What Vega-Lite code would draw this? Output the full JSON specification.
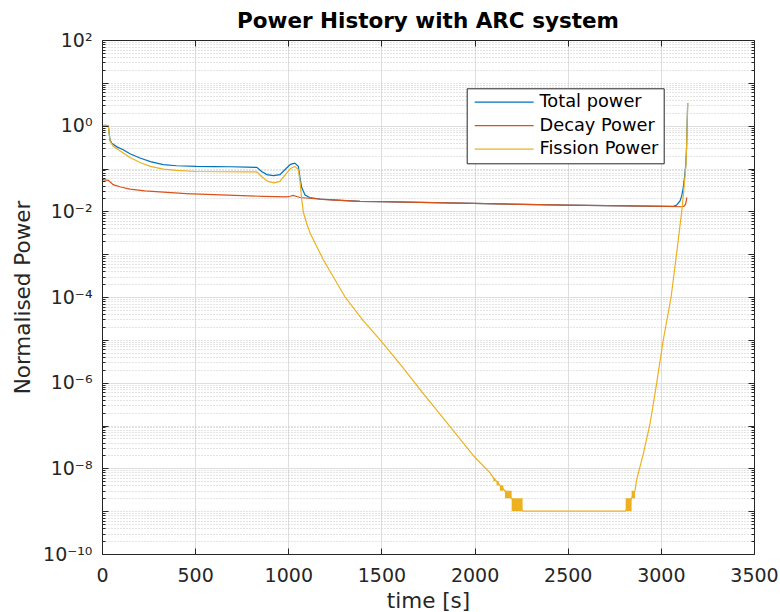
{
  "$schema": "https://vega.github.io/schema/vega-lite/v6.json",
  "width": 652,
  "height": 514,
  "autosize": {"type": "none"},
  "padding": {"left": 102, "top": 40, "right": 26, "bottom": 58},
  "background": "white",
  "title": {"text": "Power History with ARC system", "font": "DejaVu Sans", "fontSize": 21.5, "fontWeight": "bold", "color": "#000000", "anchor": "middle", "baseline": "alphabetic", "offset": 10, "dy": 28},
  "config": {
    "view": {"stroke": null},
    "axis": {"labelFont": "DejaVu Sans", "titleFont": "DejaVu Sans", "labelColor": "#262626", "titleColor": "#262626", "domainColor": "#262626", "tickColor": "#262626", "titleFontWeight": "normal", "domainWidth": 1, "tickWidth": 1}
  },
  "datasets": {
    "total": [
      {"t": 5, "p": 1.0}, {"t": 20, "p": 1.02}, {"t": 34, "p": 0.98}, {"t": 43, "p": 0.47}, {"t": 52, "p": 0.39}, {"t": 80, "p": 0.32}, {"t": 114, "p": 0.275}, {"t": 150, "p": 0.22}, {"t": 204, "p": 0.176}, {"t": 260, "p": 0.145}, {"t": 329, "p": 0.123}, {"t": 400, "p": 0.116}, {"t": 508, "p": 0.112}, {"t": 600, "p": 0.111}, {"t": 687, "p": 0.11}, {"t": 780, "p": 0.108}, {"t": 831, "p": 0.106}, {"t": 857, "p": 0.085}, {"t": 885, "p": 0.072}, {"t": 920, "p": 0.068}, {"t": 955, "p": 0.072}, {"t": 991, "p": 0.103}, {"t": 1012, "p": 0.125}, {"t": 1035, "p": 0.134}, {"t": 1054, "p": 0.112}, {"t": 1063, "p": 0.06}, {"t": 1072, "p": 0.036}, {"t": 1090, "p": 0.024}, {"t": 1115, "p": 0.021}, {"t": 1170, "p": 0.0194}, {"t": 1240, "p": 0.0186}, {"t": 1310, "p": 0.0178}, {"t": 1385, "p": 0.0171}, {"t": 1492, "p": 0.0168}, {"t": 1994, "p": 0.0153}, {"t": 2495, "p": 0.014}, {"t": 3031, "p": 0.013}, {"t": 3067, "p": 0.0131}, {"t": 3085, "p": 0.0141}, {"t": 3103, "p": 0.0175}, {"t": 3112, "p": 0.023}, {"t": 3120, "p": 0.035}, {"t": 3128, "p": 0.068}, {"t": 3134, "p": 0.125}, {"t": 3138, "p": 0.315}, {"t": 3141, "p": 1.015}, {"t": 3144, "p": 3.4}
    ],
    "decay": [
      {"t": 5, "p": 0.055}, {"t": 34, "p": 0.053}, {"t": 60, "p": 0.042}, {"t": 100, "p": 0.037}, {"t": 150, "p": 0.033}, {"t": 230, "p": 0.03}, {"t": 330, "p": 0.028}, {"t": 450, "p": 0.026}, {"t": 598, "p": 0.0245}, {"t": 750, "p": 0.0233}, {"t": 866, "p": 0.0224}, {"t": 991, "p": 0.0217}, {"t": 1010, "p": 0.0225}, {"t": 1026, "p": 0.0236}, {"t": 1045, "p": 0.0222}, {"t": 1063, "p": 0.021}, {"t": 1200, "p": 0.0188}, {"t": 1385, "p": 0.0171}, {"t": 1492, "p": 0.0168}, {"t": 1994, "p": 0.0153}, {"t": 2495, "p": 0.014}, {"t": 3031, "p": 0.013}, {"t": 3112, "p": 0.0128}, {"t": 3125, "p": 0.0132}, {"t": 3132, "p": 0.0145}, {"t": 3136, "p": 0.017}, {"t": 3139, "p": 0.021}
    ],
    "fission": [
      {"t": 5, "p": 1.0}, {"t": 20, "p": 1.02}, {"t": 34, "p": 0.98}, {"t": 43, "p": 0.43}, {"t": 60, "p": 0.33}, {"t": 114, "p": 0.23}, {"t": 150, "p": 0.18}, {"t": 204, "p": 0.138}, {"t": 260, "p": 0.112}, {"t": 329, "p": 0.097}, {"t": 400, "p": 0.09}, {"t": 508, "p": 0.085}, {"t": 650, "p": 0.084}, {"t": 780, "p": 0.083}, {"t": 831, "p": 0.083}, {"t": 857, "p": 0.065}, {"t": 890, "p": 0.05}, {"t": 925, "p": 0.046}, {"t": 955, "p": 0.05}, {"t": 991, "p": 0.078}, {"t": 1012, "p": 0.1}, {"t": 1035, "p": 0.112}, {"t": 1054, "p": 0.094}, {"t": 1063, "p": 0.05}, {"t": 1072, "p": 0.019}, {"t": 1081, "p": 0.0095}, {"t": 1099, "p": 0.0052}, {"t": 1117, "p": 0.0031}, {"t": 1150, "p": 0.0016}, {"t": 1188, "p": 0.00074}, {"t": 1235, "p": 0.00033}, {"t": 1305, "p": 0.0001}, {"t": 1400, "p": 2.9e-5}, {"t": 1501, "p": 9.1e-6}, {"t": 1610, "p": 2.4e-6}, {"t": 1724, "p": 5.6e-7}, {"t": 1860, "p": 1.05e-7}, {"t": 1999, "p": 1.86e-8}, {"t": 2083, "p": 7.8e-9}, {"t": 2101, "p": 6e-9}, {"t": 2118, "p": 5e-9}, {"t": 2136, "p": 4e-9}, {"t": 2163, "p": 3e-9}, {"t": 2199, "p": 2e-9}, {"t": 2258, "p": 1e-9}, {"t": 2811, "p": 1e-9}, {"t": 2843, "p": 2e-9}, {"t": 2861, "p": 3e-9}, {"t": 2870, "p": 5.4e-9}, {"t": 2906, "p": 2.2e-8}, {"t": 2942, "p": 1.1e-7}, {"t": 2978, "p": 1e-6}, {"t": 3013, "p": 1e-5}, {"t": 3055, "p": 0.0001}, {"t": 3085, "p": 0.00107}, {"t": 3112, "p": 0.01}, {"t": 3120, "p": 0.022}, {"t": 3128, "p": 0.055}, {"t": 3134, "p": 0.11}, {"t": 3138, "p": 0.3}, {"t": 3141, "p": 1.0}, {"t": 3144, "p": 3.4}
    ],
    "blocks": [
      {"t1": 2101, "t2": 2110, "lo": 5e-9, "hi": 6e-9},
      {"t1": 2118, "t2": 2130, "lo": 4e-9, "hi": 5e-9},
      {"t1": 2136, "t2": 2155, "lo": 3e-9, "hi": 4e-9},
      {"t1": 2163, "t2": 2199, "lo": 2e-9, "hi": 3e-9},
      {"t1": 2199, "t2": 2258, "lo": 1e-9, "hi": 2e-9},
      {"t1": 2811, "t2": 2843, "lo": 1e-9, "hi": 2e-9},
      {"t1": 2843, "t2": 2861, "lo": 2e-9, "hi": 3e-9}
    ]
  },
  "resolve": {"axis": {"x": "independent", "y": "independent"}},
  "layer": [
    {
      "data": {"name": "total"},
      "mark": {"type": "line", "strokeWidth": 1.2, "clip": true},
      "encoding": {
        "x": {"field": "t", "type": "quantitative", "scale": {"domain": [0, 3500], "nice": false, "zero": false},
          "axis": {"orient": "bottom", "values": [0, 500, 1000, 1500, 2000, 2500, 3000, 3500], "format": "d", "labelFontSize": 19, "labelPadding": 12, "ticks": false, "domain": false, "grid": true, "gridColor": "#dedede", "gridWidth": 1, "title": "time [s]", "titleFontSize": 21.5, "titleX": 326, "titleY": 53, "titleBaseline": "alphabetic", "titleAlign": "center", "labelFlush": false, "labelOverlap": false, "zindex": 0}},
        "y": {"field": "p", "type": "quantitative", "scale": {"type": "log", "domain": [1e-10, 100], "nice": false},
          "axis": {"orient": "left", "values": [1e-10, 1e-8, 1e-6, 0.0001, 0.01, 1, 100], "labelExpr": "datum.value > 10 ? '10²' : datum.value > 0.1 ? '10⁰' : datum.value > 0.001 ? '10⁻²' : datum.value > 0.00001 ? '10⁻⁴' : datum.value > 0.0000001 ? '10⁻⁶' : datum.value > 0.000000001 ? '10⁻⁸' : '10⁻¹⁰'", "labelFontSize": 19, "labelPadding": 10, "ticks": false, "domain": false, "grid": true, "gridColor": "#dedede", "gridWidth": 1, "title": "Normalised Power", "titleFontSize": 21.5, "titleX": -73, "titleY": 257, "titleAngle": -90, "titleAlign": "center", "titleBaseline": "alphabetic", "labelFlush": false, "labelOverlap": false, "zindex": 0}},
        "color": {"datum": "Total power", "type": "nominal",
          "scale": {"domain": ["Total power", "Decay Power", "Fission Power"], "range": ["#0072BD", "#D95319", "#EDB120"]},
          "legend": {"orient": "none", "legendX": 364.7, "legendY": 48.3, "title": null, "symbolType": "M-1,0H9", "symbolSize": 139, "symbolStrokeWidth": 1.2, "symbolFillColor": "transparent", "labelFont": "DejaVu Sans", "labelFontSize": 17.8, "labelColor": "#000000", "labelOffset": 50, "padding": 5, "rowPadding": 4.5, "strokeColor": "#262626", "fillColor": "white", "labelLimit": 300}}
      }
    },
    {
      "data": {"name": "decay"},
      "mark": {"type": "line", "strokeWidth": 1.2, "clip": true},
      "encoding": {
        "x": {"field": "t", "type": "quantitative", "scale": {"domain": [0, 3500], "nice": false, "zero": false},
          "axis": {"orient": "top", "values": [0, 500, 1000, 1500, 2000, 2500, 3000, 3500], "labels": false, "ticks": true, "tickSize": -6, "domain": true, "grid": false, "title": null, "zindex": 1}},
        "y": {"field": "p", "type": "quantitative", "scale": {"type": "log", "domain": [1e-10, 100], "nice": false},
          "axis": {"orient": "right", "values": [1e-10, 1e-9, 1e-8, 1e-7, 1e-6, 0.00001, 0.0001, 0.001, 0.01, 0.1, 1, 10, 100], "labels": false, "ticks": true, "tickSize": -6, "domain": true, "grid": false, "title": null, "zindex": 1}},
        "color": {"datum": "Decay Power", "type": "nominal"}
      }
    },
    {
      "data": {"name": "fission"},
      "mark": {"type": "line", "strokeWidth": 1.2, "clip": true},
      "encoding": {
        "x": {"field": "t", "type": "quantitative", "scale": {"domain": [0, 3500], "nice": false, "zero": false},
          "axis": {"orient": "bottom", "values": [0, 500, 1000, 1500, 2000, 2500, 3000, 3500], "labels": false, "ticks": true, "tickSize": -6, "domain": true, "grid": false, "title": null, "zindex": 1}},
        "y": {"field": "p", "type": "quantitative", "scale": {"type": "log", "domain": [1e-10, 100], "nice": false},
          "axis": {"orient": "left", "values": [1e-10, 1e-9, 1e-8, 1e-7, 1e-6, 0.00001, 0.0001, 0.001, 0.01, 0.1, 1, 10, 100], "labels": false, "ticks": true, "tickSize": -6, "domain": true, "grid": false, "title": null, "zindex": 1}},
        "color": {"datum": "Fission Power", "type": "nominal"}
      }
    },
    {
      "data": {"name": "blocks"},
      "mark": {"type": "rect", "color": "#EDB120"},
      "encoding": {
        "x": {"field": "t1", "type": "quantitative", "scale": {"domain": [0, 3500], "nice": false, "zero": false}, "axis": null},
        "x2": {"field": "t2"},
        "y": {"field": "lo", "type": "quantitative", "scale": {"type": "log", "domain": [1e-10, 100], "nice": false},
          "axis": {"orient": "left", "values": [2e-10, 3e-10, 4e-10, 5e-10, 6e-10, 7e-10, 8e-10, 9e-10, 2e-9, 3e-9, 4e-9, 5e-9, 6e-9, 7e-9, 8e-9, 9e-9, 2e-8, 3e-8, 4e-8, 5e-8, 6e-8, 7e-8, 8e-8, 9e-8, 2e-7, 3e-7, 4e-7, 5e-7, 6e-7, 7e-7, 8e-7, 9e-7, 2e-6, 3e-6, 4e-6, 5e-6, 6e-6, 7e-6, 8e-6, 9e-6, 2e-5, 3e-5, 4e-5, 5e-5, 6e-5, 7e-5, 8e-5, 9e-5, 0.0002, 0.0003, 0.0004, 0.0005, 0.0006, 0.0007, 0.0008, 0.0009, 0.002, 0.003, 0.004, 0.005, 0.006, 0.007, 0.008, 0.009, 0.02, 0.03, 0.04, 0.05, 0.06, 0.07, 0.08, 0.09, 0.2, 0.3, 0.4, 0.5, 0.6, 0.7, 0.8, 0.9, 2, 3, 4, 5, 6, 7, 8, 9, 20, 30, 40, 50, 60, 70, 80, 90, 1e-9, 1e-7, 0.00001, 0.001, 0.1, 10], "labels": false, "ticks": true, "tickSize": -3, "domain": false, "grid": true, "gridDash": [1, 2], "gridColor": "#c8c8c8", "gridWidth": 1, "title": null, "zindex": 0}},
        "y2": {"field": "hi"}
      }
    },
    {
      "data": {"name": "blocks"},
      "mark": {"type": "point", "opacity": 0},
      "encoding": {
        "x": {"field": "t1", "type": "quantitative", "scale": {"domain": [0, 3500], "nice": false, "zero": false}, "axis": null},
        "y": {"field": "lo", "type": "quantitative", "scale": {"type": "log", "domain": [1e-10, 100], "nice": false},
          "axis": {"orient": "right", "values": [2e-10, 3e-10, 4e-10, 5e-10, 6e-10, 7e-10, 8e-10, 9e-10, 2e-9, 3e-9, 4e-9, 5e-9, 6e-9, 7e-9, 8e-9, 9e-9, 2e-8, 3e-8, 4e-8, 5e-8, 6e-8, 7e-8, 8e-8, 9e-8, 2e-7, 3e-7, 4e-7, 5e-7, 6e-7, 7e-7, 8e-7, 9e-7, 2e-6, 3e-6, 4e-6, 5e-6, 6e-6, 7e-6, 8e-6, 9e-6, 2e-5, 3e-5, 4e-5, 5e-5, 6e-5, 7e-5, 8e-5, 9e-5, 0.0002, 0.0003, 0.0004, 0.0005, 0.0006, 0.0007, 0.0008, 0.0009, 0.002, 0.003, 0.004, 0.005, 0.006, 0.007, 0.008, 0.009, 0.02, 0.03, 0.04, 0.05, 0.06, 0.07, 0.08, 0.09, 0.2, 0.3, 0.4, 0.5, 0.6, 0.7, 0.8, 0.9, 2, 3, 4, 5, 6, 7, 8, 9, 20, 30, 40, 50, 60, 70, 80, 90], "labels": false, "ticks": true, "tickSize": -3, "domain": false, "grid": false, "title": null, "zindex": 1}}
      }
    }
  ]
}
